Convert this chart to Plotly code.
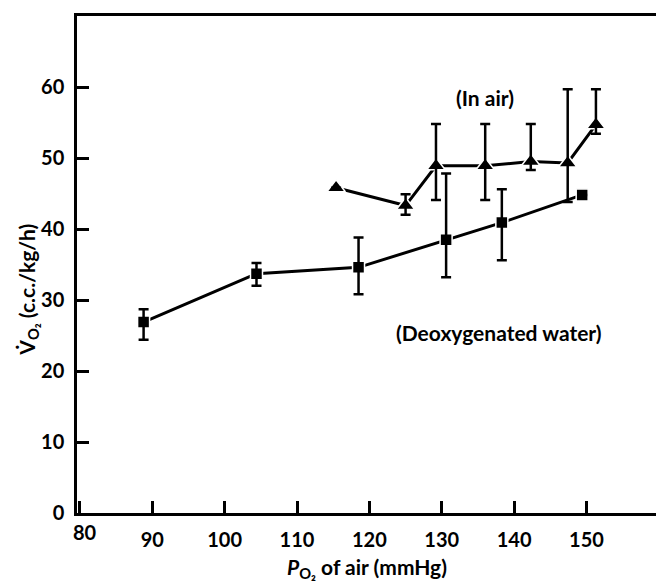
import plotly.graph_objects as go

# In air (triangles)
air_x = [115.4, 125.0, 129.2, 136.0, 142.3, 147.4, 151.3]
air_y = [45.8, 43.3, 48.9, 48.9, 49.5, 49.3, 54.7]
air_hi = [None, 44.9, 54.8, 54.8, 54.8, 59.7, 59.7]
air_lo = [None, 42.0, 44.1, 44.1, 48.3, 43.8, 53.4]

# Deoxygenated water (squares)
water_x = [88.8, 104.4, 118.5, 130.6, 138.3, 149.4]
water_y = [26.9, 33.7, 34.6, 38.5, 40.9, 44.8]
water_hi = [28.7, 35.2, 38.8, 47.8, 45.6, None]
water_lo = [24.4, 32.0, 30.8, 33.2, 35.6, None]

x_ticks = [80, 90, 100, 110, 120, 130, 140, 150]
x_ticktext = ["", "90", "100", "110", "120", "130", "140", "150"]
first_x_label = "80"
y_ticks = [0, 10, 20, 30, 40, 50, 60]

FONT = "Lato"


def err(vals, ref, upper):
    out = []
    for v, r in zip(vals, ref):
        if v is None:
            out.append(None)
        else:
            out.append(v - r if upper else r - v)
    return out


fig = go.Figure()

series = [(water_x, water_y, "square", 12), (air_x, air_y, "triangle-up", 16)]

for xs, ys, sym, size in series:
    fig.add_trace(go.Scatter(x=xs, y=ys, mode="lines",
                             line=dict(color="black", width=3), hoverinfo="skip"))

for xs, ys, sym, size in series:
    fig.add_trace(go.Scatter(x=xs, y=ys, mode="markers",
                             marker=dict(symbol=sym, size=size, color="black",
                                         line=dict(color="white", width=1.5))))

for xs, ys, hi, lo in [(water_x, water_y, water_hi, water_lo), (air_x, air_y, air_hi, air_lo)]:
    fig.add_trace(go.Scatter(x=xs, y=ys, mode="markers",
                             marker=dict(size=1, color="rgba(0,0,0,0)"),
                             error_y=dict(type="data", symmetric=False,
                                          array=err(hi, ys, True),
                                          arrayminus=err(lo, ys, False),
                                          color="black", thickness=2.5, width=5)))

fig.add_annotation(x=136.0, y=58.5, xref="x", yref="y", text="(In air)",
                   xanchor="center", yanchor="middle", showarrow=False,
                   font=dict(family=FONT, size=21, color="black", weight="bold"))
fig.add_annotation(x=137.9, y=25.4, xref="x", yref="y", text="(Deoxygenated water)",
                   xanchor="center", yanchor="middle", showarrow=False,
                   font=dict(family=FONT, size=21, color="black", weight="bold"))

fig.add_annotation(x=0.0138, y=-0.038, xref="paper", yref="paper", text=first_x_label,
                   xanchor="center", yanchor="middle", showarrow=False,
                   font=dict(family=FONT, size=20, color="black", weight="bold"))

fig.add_annotation(x=-0.085, y=0.449, xref="paper", yref="paper", textangle=-90,
                   xanchor="center", yanchor="middle",
                   text="V\u0307<sub>O\u2082</sub> (c.c./kg/h)", showarrow=False,
                   font=dict(family=FONT, size=21, color="black", weight="bold"))
fig.add_annotation(x=0.5, y=-0.11, xref="paper", yref="paper",
                   xanchor="center", yanchor="middle",
                   text="<i>P</i><sub>O\u2082</sub> of air (mmHg)", showarrow=False,
                   font=dict(family=FONT, size=21, color="black", weight="bold"))

fig.update_layout(
    width=656, height=581,
    margin=dict(l=77, r=0, t=16, b=68),
    paper_bgcolor="white", plot_bgcolor="white",
    showlegend=False,
    font=dict(family=FONT, size=20, color="black", weight="bold"),
)
fig.update_xaxes(range=[79.6, 159.6], tickvals=x_ticks, ticktext=x_ticktext,
                 ticks="inside", ticklen=12,
                 tickwidth=2.5, tickcolor="black", showline=True, linewidth=2.5,
                 linecolor="black", mirror=True, showgrid=False, zeroline=False,
                 ticklabelstandoff=7)
fig.update_yaxes(range=[0, 70], tickvals=y_ticks, ticks="inside", ticklen=12,
                 tickwidth=2.5, tickcolor="black", showline=True, linewidth=2.5,
                 linecolor="black", mirror=False, showgrid=False, zeroline=False,
                 ticklabelstandoff=6)

fig.write_html("out.html")
